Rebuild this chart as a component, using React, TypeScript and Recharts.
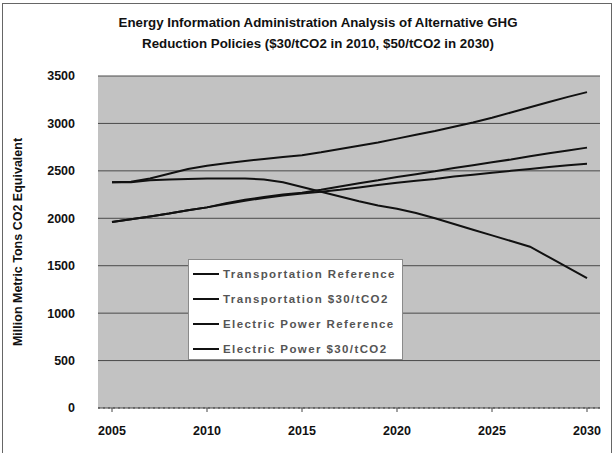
import React from 'react';
import { LineChart, Line, XAxis, YAxis, CartesianGrid } from 'recharts';

const years = [
  2005, 2006, 2007, 2008, 2009, 2010, 2011, 2012, 2013, 2014, 2015, 2016, 2017,
  2018, 2019, 2020, 2021, 2022, 2023, 2024, 2025, 2026, 2027, 2028, 2029, 2030,
];

// Million metric tons CO2 equivalent
const transportRef = [
  1960, 1990, 2020, 2050, 2085, 2115, 2160, 2195, 2225, 2250, 2270, 2300, 2335,
  2370, 2400, 2435, 2465, 2495, 2530, 2560, 2590, 2620, 2655, 2685, 2715, 2745,
];
const transport30 = [
  1960, 1990, 2020, 2050, 2085, 2115, 2150, 2185, 2215, 2240, 2260, 2280, 2300,
  2325, 2350, 2375, 2395, 2415, 2440, 2460, 2480, 2500, 2520, 2540, 2560, 2575,
];
const electricRef = [
  2380, 2385, 2420, 2470, 2520, 2555, 2580, 2605, 2625, 2645, 2665, 2695, 2730,
  2765, 2800, 2840, 2880, 2920, 2965, 3010, 3060, 3115, 3170, 3225, 3280, 3330,
];
const electric30 = [
  2380, 2380, 2400, 2410, 2415, 2420, 2420, 2420, 2410, 2380, 2330, 2280, 2230,
  2180, 2135, 2100, 2055, 2000, 1940, 1880, 1820, 1760, 1700, 1590, 1480, 1370,
];

const yTicks = [0, 500, 1000, 1500, 2000, 2500, 3000, 3500];
const xTicks = [2005, 2010, 2015, 2020, 2025, 2030];

const seriesNames = [
  'Transportation Reference',
  'Transportation $30/tCO2',
  'Electric Power Reference',
  'Electric Power $30/tCO2',
];

const data = years.map((year, i) => ({
  year,
  transportRef: transportRef[i],
  transport30: transport30[i],
  electricRef: electricRef[i],
  electric30: electric30[i],
}));

const font = 'Arial, "Liberation Sans", Helvetica, sans-serif';

const LegendBox = () => (
  <div
    style={{
      position: 'absolute',
      left: 188,
      top: 259,
      background: '#fff',
      border: '1px solid #8a8a8a',
      width: 215,
      height: 101,
      boxSizing: 'border-box',
      padding: '1px 0 0 4px',
    }}
  >
    {seriesNames.map((name) => (
      <div key={name} style={{ display: 'flex', alignItems: 'center', height: 25 }}>
        <div style={{ width: 26, height: 2, background: '#111', marginRight: 4 }} />
        <span
          style={{
            fontFamily: font,
            fontWeight: 'bold',
            fontSize: 11.5,
            color: '#555',
            letterSpacing: 1.4,
            whiteSpace: 'nowrap',
          }}
        >
          {name}
        </span>
      </div>
    ))}
  </div>
);

const YLabel = ({ viewBox }: any) => {
  const cy = viewBox.y + viewBox.height / 2;
  return (
    <text
      x={18}
      y={cy}
      transform={`rotate(-90, 18, ${cy})`}
      textAnchor="middle"
      dominantBaseline="central"
      fontFamily={font}
      fontWeight="bold"
      fontSize={12.5}
      fill="#111"
    >
      Million Metric Tons CO2 Equivalent
    </text>
  );
};

const App: React.FC = () => {
  return (
    <div style={{ position: 'relative', width: 616, height: 453, background: '#fff', overflow: 'hidden' }}>
      <style>{`body{margin:0}`}</style>
      <div
        style={{
          position: 'absolute',
          left: 2,
          top: 3,
          width: 610,
          height: 460,
          border: '1px solid #666',
          boxSizing: 'border-box',
        }}
      />
      <div
        style={{
          position: 'absolute',
          left: 0,
          top: 12,
          width: 636,
          textAlign: 'center',
          fontFamily: font,
          fontWeight: 'bold',
          fontSize: 13.3,
          lineHeight: '21px',
          color: '#111',
        }}
      >
        Energy Information Administration Analysis of Alternative GHG
        <br />
        Reduction Policies ($30/tCO2 in 2010, $50/tCO2 in 2030)
      </div>
      <LineChart
        width={616}
        height={453}
        data={data}
        margin={{ top: 76, right: 16, bottom: 13, left: 0 }}
        style={{ position: 'absolute', left: 0, top: 0 }}
      >
        <CartesianGrid horizontal vertical={false} stroke="#4a4a4a" fill="#c2c2c2" />
        <XAxis
          dataKey="year"
          type="number"
          domain={[2005, 2030]}
          ticks={xTicks}
          padding={{ left: 14, right: 13 }}
          height={32}
          tickSize={4}
          tickMargin={14}
          stroke="#444"
          axisLine={{ stroke: '#444', strokeDasharray: '2 3' }}
          tick={{ fill: '#111', fontFamily: font, fontWeight: 'bold', fontSize: 12.5 }}
        />
        <YAxis
          type="number"
          domain={[0, 3500]}
          ticks={yTicks}
          width={98}
          axisLine={false}
          tickLine={false}
          tickSize={0}
          tickMargin={23}
          tick={{ fill: '#111', fontFamily: font, fontWeight: 'bold', fontSize: 12.5 }}
          label={{ content: YLabel }}
        />
        <Line type="linear" dataKey="transportRef" name={seriesNames[0]} stroke="#111" strokeWidth={2} dot={false} isAnimationActive={false} />
        <Line type="linear" dataKey="transport30" name={seriesNames[1]} stroke="#111" strokeWidth={2} dot={false} isAnimationActive={false} />
        <Line type="linear" dataKey="electricRef" name={seriesNames[2]} stroke="#111" strokeWidth={2} dot={false} isAnimationActive={false} />
        <Line type="linear" dataKey="electric30" name={seriesNames[3]} stroke="#111" strokeWidth={2} dot={false} isAnimationActive={false} />
      </LineChart>
      <LegendBox />
    </div>
  );
};

export default App;
